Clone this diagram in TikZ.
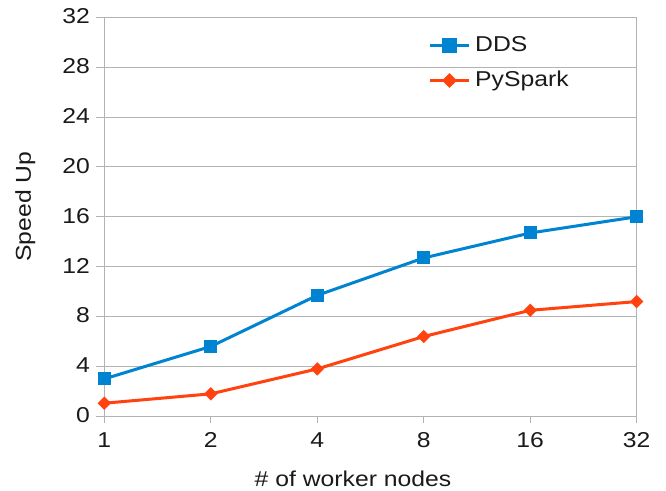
\documentclass[tikz,border=0pt]{standalone}
\usepackage{fontspec}
\setmainfont{Liberation Sans}[FakeStretch=1.15]
\usetikzlibrary{shapes.geometric}
\definecolor{ddsblue}{HTML}{0084D1}
\definecolor{psorange}{HTML}{FF420E}
\definecolor{gridgray}{HTML}{B3B3B3}
\definecolor{txt}{HTML}{1A1A1A}
\tikzset{
  gridline/.style={draw=gridgray, line width=1bp},
  series/.style={line width=3bp, line join=round},
  sqmark/.style={rectangle, fill=ddsblue, inner sep=0pt, minimum size=13bp},
  dmmark/.style={diamond, fill=psorange, inner sep=0pt, minimum width=13.5bp, minimum height=13.5bp},
  lbl/.style={text=txt, inner sep=0pt, font=\fontsize{21.5bp}{24bp}\selectfont},
}
\begin{document}
\begin{tikzpicture}[x=1bp, y=-1bp]
\useasboundingbox (0,0) rectangle (666,491);
\fill[white] (0,0) rectangle (666,491);
% grid
\foreach \v in {0,4,...,32} {
  \pgfmathsetmacro{\yy}{416.3-12.47*\v}
  \draw[gridline] (96.3,\yy) -- (636.7,\yy);
  \node[lbl, anchor=east] (yl\v) at (90,\yy-1) {\v};
}
\draw[gridline] (104.3,17.3) -- (104.3,423);
\draw[gridline] (636.7,17.3) -- (636.7,423);
\foreach \i/\t in {0/1,1/2,2/4,3/8,4/16,5/32} {
  \pgfmathsetmacro{\xx}{104.3+106.48*\i}
  \draw[gridline] (\xx,416.3) -- (\xx,423);
  \node[lbl] (xl\i) at (\xx,440) {\t};
}
% titles
\node[lbl, anchor=base] (xtitle) at (353,486.7) {\# of worker nodes};
\node[lbl, rotate=90] (ytitle) at (25.3,206.7) {Speed Up};
% data coordinates
\foreach \i/\d/\p in {0/3.0/1.05,1/5.6/1.8,2/9.7/3.8,3/12.7/6.4,4/14.7/8.5,5/16.0/9.2} {
  \pgfmathsetmacro{\xx}{104.3+106.48*\i}
  \coordinate (d\i) at (\xx,{416.3-12.47*\d});
  \coordinate (p\i) at (\xx,{416.3-12.47*\p});
}
\draw[series, ddsblue] (d0) -- (d1) -- (d2) -- (d3) -- (d4) -- (d5);
\draw[series, psorange] (p0) -- (p1) -- (p2) -- (p3) -- (p4) -- (p5);
\foreach \i in {0,...,5} {
  \node[sqmark] (dm\i) at (d\i) {};
  \node[dmmark] (pm\i) at (p\i) {};
}
% legend
\coordinate (la1) at (430,45.5);
\coordinate (lb1) at (469,45.5);
\coordinate (la2) at (430,80.5);
\coordinate (lb2) at (469,80.5);
\draw[series, ddsblue] (la1) -- (lb1);
\draw[series, psorange] (la2) -- (lb2);
\node[sqmark, minimum size=14.5bp] (lm1) at (449.5,45.5) {};
\node[dmmark, minimum width=15bp, minimum height=15bp] (lm2) at (449.5,80.5) {};
\node[lbl, anchor=base west] (lt1) at (475,52) {DDS};
\node[lbl, anchor=base west] (lt2) at (475,87) {PySpark};
\end{tikzpicture}
\end{document}
